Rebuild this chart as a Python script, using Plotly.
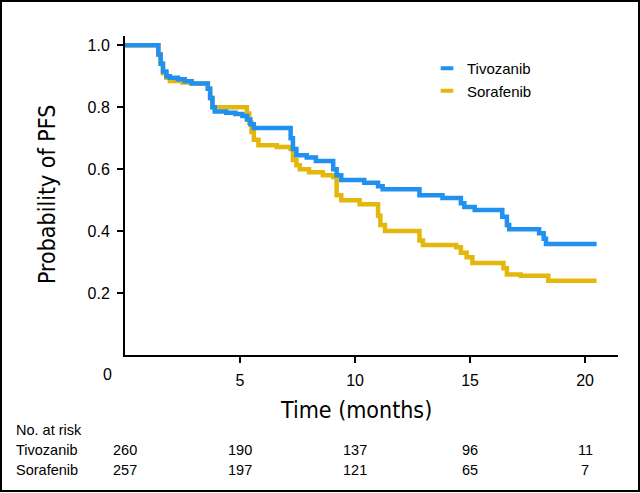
import plotly.graph_objects as go

# ---- data ----
tivo_t = [0, 1.45, 1.55, 1.65, 1.8, 1.95, 2.3, 2.6, 2.9, 3.6, 3.7, 3.8, 3.9, 4.4, 4.8, 5.1, 5.3, 5.45, 5.6,
          7.2, 7.3, 7.45, 7.9, 8.3, 9.05, 9.2, 9.4, 10.4, 11.0, 11.2, 12.8, 13.8, 14.6, 14.75, 15.2,
          16.4, 16.6, 16.7, 18.0, 18.2, 18.3, 20.5]
tivo_s = [1.0, 0.97, 0.94, 0.915, 0.90, 0.895, 0.89, 0.884, 0.877, 0.86, 0.83, 0.80, 0.786, 0.782, 0.778,
          0.772, 0.76, 0.745, 0.733, 0.70, 0.665, 0.645, 0.638, 0.626, 0.60, 0.58, 0.565, 0.556, 0.545,
          0.535, 0.516, 0.507, 0.49, 0.478, 0.468, 0.446, 0.42, 0.406, 0.393, 0.375, 0.358, 0.358]

sora_t = [0, 1.45, 1.55, 1.65, 1.8, 1.95, 2.5, 2.9, 3.6, 3.7, 3.8, 5.3, 5.4, 5.5, 5.6, 5.8, 6.6, 7.2, 7.3,
          7.45, 7.6, 8.0, 8.6, 9.05, 9.2, 9.4, 10.2, 11.0, 11.1, 11.3, 12.8, 12.95, 14.4, 14.6, 14.85,
          15.1, 16.45, 16.6, 17.2, 18.4, 20.5]
sora_s = [1.0, 0.97, 0.94, 0.91, 0.895, 0.885, 0.88, 0.877, 0.86, 0.83, 0.80, 0.78, 0.75, 0.72, 0.695,
          0.677, 0.672, 0.665, 0.63, 0.613, 0.60, 0.59, 0.58, 0.575, 0.516, 0.50, 0.487, 0.45, 0.42,
          0.40, 0.37, 0.355, 0.348, 0.33, 0.316, 0.297, 0.28, 0.26, 0.256, 0.24, 0.24]

series_names = ["Tivozanib", "Sorafenib"]
risk_times = [0, 5, 10, 15, 20]
risk_tivo = [260, 190, 137, 96, 11]
risk_sora = [257, 197, 121, 65, 7]
x_ticks = [5, 10, 15, 20]
y_ticks = [0.2, 0.4, 0.6, 0.8, 1.0]
y_ticktext = ["0.2", "0.4", "0.6", "0.8", "1.0"]

BLUE = "#2191F0"
GOLD = "#E3B70C"
TXT = "Liberation Sans, Arial, sans-serif"
NARROW = "DejaVu Sans Condensed, Liberation Sans Narrow, Arial Narrow, sans-serif"

fig = go.Figure()
fig.add_trace(go.Scatter(x=sora_t, y=sora_s, mode="lines", line=dict(color=GOLD, width=4.5, shape="hv"),
                         showlegend=False, hoverinfo="skip"))
fig.add_trace(go.Scatter(x=tivo_t, y=tivo_s, mode="lines", line=dict(color=BLUE, width=4.5, shape="hv"),
                         showlegend=False, hoverinfo="skip"))
for name, col in zip(series_names, [BLUE, GOLD]):
    fig.add_trace(go.Scatter(x=[None], y=[None], mode="markers", name=name,
                             marker=dict(symbol="line-ew", size=9, line=dict(color=col, width=4))))

W, H = 640, 493
L, R, T, B = 125, 22, 36, 138
pw, ph = W - L - R, H - T - B

def px(xp):
    return (xp - L) / pw

def py(yp):
    return (H - B - yp) / ph

fig.update_layout(
    width=W, height=H,
    margin=dict(l=L, r=R, t=T, b=B),
    paper_bgcolor="white", plot_bgcolor="white",
    font=dict(family=TXT, size=15, color="black"),
    showlegend=True,
    legend=dict(x=px(427), y=py(52), xanchor="left", yanchor="top", bgcolor="rgba(0,0,0,0)",
                font=dict(family=TXT, size=15), tracegroupgap=0, itemwidth=30),
    xaxis=dict(range=[0, 21.43], showline=True, linecolor="black", linewidth=2, ticks="outside",
               ticklen=6, tickwidth=1.5, tickcolor="black", tickvals=x_ticks, showgrid=False,
               zeroline=False, tickfont=dict(family=TXT, size=16), ticklabelstandoff=4),
    yaxis=dict(range=[0, 1.03], showline=True, linecolor="black", linewidth=2, ticks="outside",
               ticklen=6, tickwidth=1.5, tickcolor="black", tickvals=y_ticks, ticktext=y_ticktext,
               showgrid=False, zeroline=False, tickfont=dict(family=TXT, size=16), ticklabelstandoff=4),
)

ann = []
ann.append(dict(x=px(107), y=py(375), xref="paper", yref="paper", text="0", showarrow=False,
                font=dict(family=TXT, size=16), xanchor="center", yanchor="middle"))
ann.append(dict(x=px(356), y=py(410), xref="paper", yref="paper", text="Time (months)", showarrow=False,
                font=dict(family=NARROW, size=23), xanchor="center", yanchor="middle"))
ann.append(dict(x=px(47), y=py(195), xref="paper", yref="paper", text="Probability of PFS", showarrow=False,
                textangle=-90, font=dict(family=NARROW, size=23), xanchor="center", yanchor="middle"))
ann.append(dict(x=px(14), y=py(430), xref="paper", yref="paper", text="No. at risk", showarrow=False,
                font=dict(family=TXT, size=14.5), xanchor="left", yanchor="middle"))
for lab, vals, yy in [(series_names[0], risk_tivo, 450), (series_names[1], risk_sora, 470)]:
    ann.append(dict(x=px(14), y=py(yy), xref="paper", yref="paper", text=lab, showarrow=False,
                    font=dict(family=TXT, size=14.5), xanchor="left", yanchor="middle"))
    for t, v in zip(risk_times, vals):
        ann.append(dict(x=t, y=py(yy), xref="x", yref="paper", text=str(v), showarrow=False,
                        font=dict(family=TXT, size=14.5), xanchor="center", yanchor="middle"))
fig.update_layout(annotations=ann)

# outer frame around the whole picture
fig.add_shape(type="rect", xref="paper", yref="paper", x0=px(1), x1=px(639), y0=py(491), y1=py(1),
              line=dict(color="black", width=2), fillcolor="rgba(0,0,0,0)", layer="above")

fig.write_html("out.html", config={"displayModeBar": False},
               post_script="document.body.style.margin='0px';document.body.style.overflow='hidden';")
